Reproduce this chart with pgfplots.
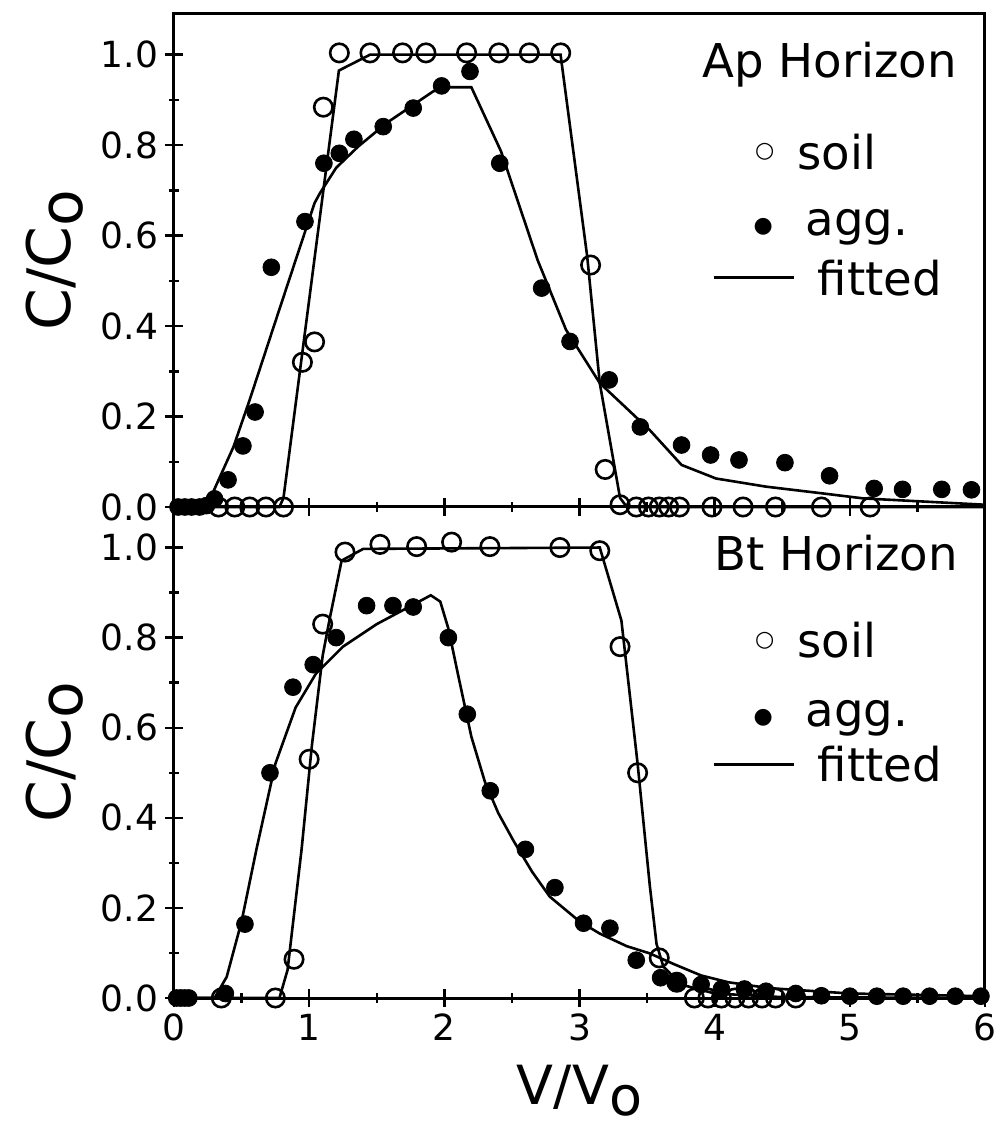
\documentclass[border=0pt]{standalone}
\usepackage{fontspec}
\setmainfont{DejaVu Sans}
\usepackage{pgfplots}
\pgfplotsset{compat=1.18}

\tikzset{legtxt/.style={font=\fontsize{23.3}{28}\selectfont, inner sep=0pt}}
\pgfplotsset{
 panel/.style={
  scale only axis, width=405.5pt,
  xmin=0, xmax=6, ymin=0, ymax=1.09,
  axis line style={line width=1.5pt},
  tick align=center,
  xtick={0,1,2,3,4,5,6}, minor xtick={0.5,1.5,2.5,3.5,4.5,5.5},
  ytick={0,0.2,0.4,0.6,0.8,1.0}, minor ytick={0.1,0.3,0.5,0.7,0.9},
  xtick pos=bottom, ytick pos=left,
  major tick length=9pt, minor tick length=5pt,
  every tick/.style={black, line width=1.2pt},
  /pgf/number format/assume math mode=true,
  ticklabel style={font=\fontsize{18}{18}\selectfont},
  yticklabel style={/pgf/number format/.cd, fixed, fixed zerofill, precision=1},
  clip=false,
  ylabel={C/C\raisebox{-6pt}{o}},
  ylabel style={font=\fontsize{30}{30}\selectfont, inner sep=0pt, at={(axis description cs:-0.128,0.5)}, anchor=base},
 },
 soil/.style={only marks, mark=o, mark size=4.6pt, mark options={line width=1.3pt}},
 agg/.style={only marks, mark=*, mark size=4.2pt, mark options={fill=black, draw=black}},
 fit/.style={no marks, line width=1.3pt, black},
}

\begin{document}
\begin{tikzpicture}
% ---------------- bottom panel: Bt Horizon ----------------
\begin{axis}[panel, height=245.5pt, at={(0pt,0pt)},
  xlabel={V/V\raisebox{-5.5pt}{o}},
  xlabel style={font=\fontsize{27}{27}\selectfont, inner sep=0pt, at={(axis description cs:0.5,0)}, anchor=base, yshift=-53pt}]
\addplot[fit] coordinates {(0,0)(0.78,0)(0.84,0.062)(0.944,0.33)(1.02,0.56)(1.1,0.76)(1.154,0.845)(1.24,0.971)(1.40,0.997)(3.15,1.0)(3.31,0.838)(3.43,0.52)(3.52,0.25)(3.57,0.12)(3.62,0.07)(3.75,0.03)(4.0,0.01)(4.5,0.002)(6,0)};
\addplot[fit] coordinates {(0,0)(0.3,0)(0.39,0.047)(0.5,0.17)(0.61,0.33)(0.75,0.52)(0.9,0.645)(1.05,0.72)(1.25,0.78)(1.5,0.83)(1.75,0.87)(1.9,0.894)(1.97,0.88)(2.03,0.82)(2.1,0.72)(2.2,0.58)(2.3,0.48)(2.4,0.41)(2.51,0.35)(2.65,0.28)(2.78,0.225)(3.0,0.17)(3.15,0.143)(3.35,0.115)(3.52,0.099)(3.7,0.075)(3.9,0.05)(4.1,0.035)(4.4,0.022)(5.0,0.01)(6,0.004)};
\addplot[soil] coordinates {(0.35,0)(0.75,0)(0.888,0.086)(1.0,0.53)(1.1,0.83)(1.265,0.99)(1.524,1.007)(1.795,1.002)(2.054,1.012)(2.337,1.002)(2.855,1.0)(3.15,0.993)(3.3,0.78)(3.43,0.50)(3.59,0.089)(3.72,0.035)(3.85,0)(3.95,0)(4.05,0)(4.15,0)(4.25,0)(4.35,0)(4.45,0)(4.6,0)};
\addplot[agg] coordinates {(0.02,0)(0.05,0)(0.08,0)(0.11,0)(0.38,0.01)(0.525,0.164)(0.71,0.50)(0.88,0.69)(1.03,0.74)(1.2,0.80)(1.425,0.871)(1.62,0.871)(1.77,0.868)(2.03,0.80)(2.17,0.63)(2.34,0.46)(2.6,0.33)(2.818,0.245)(3.03,0.166)(3.225,0.155)(3.42,0.084)(3.6,0.045)(3.72,0.035)(3.9,0.03)(4.05,0.02)(4.22,0.02)(4.38,0.015)(4.6,0.01)(4.79,0.005)(5.0,0.004)(5.2,0.004)(5.395,0.004)(5.59,0.004)(5.78,0.004)(5.97,0.004)};
\node[legtxt] at (axis cs:4.90,0.987) {Bt Horizon};
\node[inner sep=0pt, font=\fontsize{11}{11}\selectfont] at (axis cs:4.37,0.794) {○};
\node[legtxt, anchor=west] at (axis cs:4.61,0.794) {soil};
\node[inner sep=0pt, font=\fontsize{11}{11}\selectfont] at (axis cs:4.36,0.621) {●};
\node[legtxt, anchor=west] at (axis cs:4.67,0.621) {agg.};
\node[inner sep=0pt, anchor=west] at (axis cs:3.99,0.519) {\rule{40pt}{1.3pt}};
\node[legtxt, anchor=west] at (axis cs:4.76,0.519) {fitted};
\end{axis}
% ---------------- top panel: Ap Horizon ----------------
\begin{axis}[panel, height=246.5pt, at={(0pt,245.5pt)}, xticklabels={}]
\addplot[fit] coordinates {(0,0)(0.78,0)(0.81,0.02)(1.22,0.965)(1.45,1.0)(2.86,1.0)(3.057,0.554)(3.15,0.274)(3.30,0.02)(3.35,0)(6,0)};
\addplot[fit] coordinates {(0,0)(0.25,0)(0.27,0.02)(0.44,0.133)(0.56,0.237)(0.75,0.41)(0.93,0.573)(1.04,0.672)(1.08,0.694)(1.2,0.75)(1.363,0.797)(1.573,0.849)(1.918,0.919)(2.03,0.928)(2.20,0.928)(2.42,0.786)(2.69,0.546)(2.90,0.392)(3.15,0.274)(3.52,0.17)(3.755,0.093)(4.01,0.063)(4.38,0.045)(4.80,0.03)(5.1,0.019)(6,0.005)};
\addplot[soil] coordinates {(0.33,0)(0.45,0)(0.56,0)(0.68,0)(0.81,0)(0.95,0.32)(1.04,0.365)(1.105,0.884)(1.223,1.004)(1.45,1.004)(1.691,1.004)(1.864,1.004)(2.165,1.004)(2.404,1.004)(2.629,1.004)(2.861,1.004)(3.082,0.535)(3.19,0.083)(3.30,0.005)(3.42,0)(3.51,0)(3.59,0)(3.66,0)(3.74,0)(3.98,0)(4.21,0)(4.45,0)(4.79,0)(5.15,0)};
\addplot[agg] coordinates {(0.03,0)(0.08,0)(0.13,0)(0.19,0)(0.24,0.003)(0.30,0.018)(0.40,0.06)(0.51,0.135)(0.60,0.21)(0.72,0.53)(0.969,0.631)(1.109,0.76)(1.223,0.782)(1.331,0.813)(1.548,0.841)(1.77,0.882)(1.98,0.931)(2.19,0.963)(2.41,0.76)(2.72,0.484)(2.93,0.366)(3.22,0.281)(3.45,0.177)(3.755,0.137)(3.97,0.115)(4.18,0.104)(4.52,0.098)(4.85,0.069)(5.18,0.041)(5.39,0.039)(5.68,0.039)(5.90,0.038)};
\node[legtxt] at (axis cs:4.85,0.978) {Ap Horizon};
\node[inner sep=0pt, font=\fontsize{11}{11}\selectfont] at (axis cs:4.37,0.785) {○};
\node[legtxt, anchor=west] at (axis cs:4.61,0.785) {soil};
\node[inner sep=0pt, font=\fontsize{11}{11}\selectfont] at (axis cs:4.36,0.619) {●};
\node[legtxt, anchor=west] at (axis cs:4.67,0.619) {agg.};
\node[inner sep=0pt, anchor=west] at (axis cs:3.99,0.507) {\rule{40pt}{1.3pt}};
\node[legtxt, anchor=west] at (axis cs:4.76,0.507) {fitted};
\end{axis}
\pgfresetboundingbox
\path[use as bounding box] (-87pt,-64pt) rectangle (414pt,499pt);
\end{tikzpicture}
\end{document}
